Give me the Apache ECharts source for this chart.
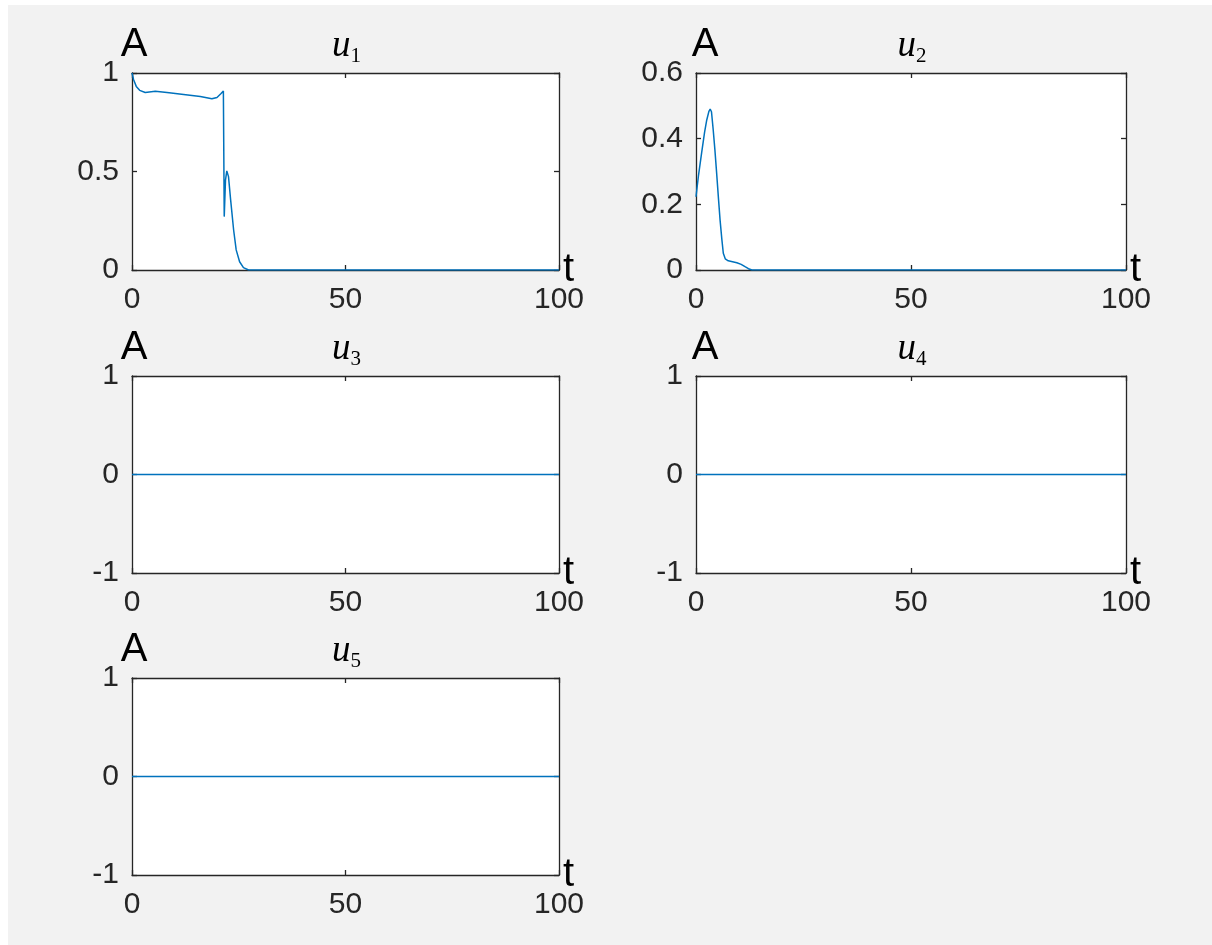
<!DOCTYPE html>
<html>
<head>
<meta charset="utf-8">
<script src="https://cdn.jsdelivr.net/npm/echarts@6/dist/echarts.min.js"></script>
<style>
  html, body { margin: 0; padding: 0; background: #ffffff; }
  #bg { position: absolute; left: 8px; top: 5px; width: 1204px; height: 940px; background: #f2f2f2; }
  #chart { position: absolute; left: 0; top: 0; width: 1212px; height: 945px; }
</style>
</head>
<body>
<div id="bg"></div>
<div id="chart"></div>
<script>
// ---- data ----
const t_u1 = [0, 0.38, 1.0, 1.8, 3.1, 5.45, 8.2, 12.1, 16.0, 18.7, 19.9, 20.8, 21.4, 21.6, 21.9, 22.2, 22.6, 23.1, 23.8, 24.4, 25.2, 26.1, 27.3, 40, 60, 80, 100];
const v_u1 = [1.0, 0.966, 0.932, 0.912, 0.901, 0.907, 0.901, 0.891, 0.881, 0.869, 0.876, 0.895, 0.908, 0.271, 0.458, 0.503, 0.474, 0.356, 0.203, 0.102, 0.042, 0.012, 0, 0, 0, 0, 0];

const t_u2 = [0, 0.6, 1.3, 2.0, 2.5, 3.0, 3.3, 3.6, 4.0, 4.4, 4.8, 5.2, 5.6, 6.0, 6.35, 6.8, 7.5, 8.5, 9.5, 10.5, 11.4, 12.2, 13.0, 40, 70, 100];
const v_u2 = [0.223, 0.29, 0.356, 0.42, 0.457, 0.483, 0.49, 0.482, 0.427, 0.365, 0.295, 0.222, 0.152, 0.095, 0.051, 0.034, 0.028, 0.025, 0.022, 0.017, 0.01, 0.004, 0, 0, 0, 0];

const t_flat = [0, 100];
const v_u3 = [0, 0];
const v_u4 = [0, 0];
const v_u5 = [0, 0];

const subscripts = ['1', '2', '3', '4', '5'];
const xTicks = { min: 0, max: 100, step: 50 };
const yMin = [0, 0, -1, -1, -1];
const yMax = [1, 0.6, 1, 1, 1];
const yStep = [0.5, 0.2, 1, 1, 1];
const seriesT = [t_u1, t_u2, t_flat, t_flat, t_flat];
const seriesV = [v_u1, v_u2, v_u3, v_u4, v_u5];

// ---- layout / style ----
const grids = [
  { left: 132, top: 73, width: 427, height: 197 },
  { left: 696, top: 73, width: 430, height: 197 },
  { left: 132, top: 376, width: 427, height: 197 },
  { left: 696, top: 376, width: 430, height: 197 },
  { left: 132, top: 678, width: 427, height: 197 }
];
const aShift = [2, 9, 2, 9, 2];
const axisColor = '#262626';
const lineColor = '#0072BD';
const tickFont = 'Liberation Sans';

const option = {
  backgroundColor: 'transparent',
  animation: false,
  grid: grids.map(g => ({ ...g, show: true, backgroundColor: '#ffffff', borderWidth: 0, containLabel: false })),
  title: grids.map((g, i) => ({
    left: g.left + g.width / 2 - 4,
    top: g.top - 53,
    textAlign: 'center',
    text: '{u|u}{s|' + subscripts[i] + '}',
    textStyle: {
      fontWeight: 'normal',
      rich: {
        u: { fontFamily: 'Liberation Serif', fontStyle: 'italic', fontWeight: 'normal', fontSize: 37, color: '#000', lineHeight: 42 },
        s: { fontFamily: 'Liberation Serif', fontWeight: 'normal', fontSize: 21, color: '#000', verticalAlign: 'bottom', lineHeight: 20 }
      }
    }
  })),
  xAxis: [],
  yAxis: [],
  series: []
};

grids.forEach((g, i) => {
  const common = {
    gridIndex: i,
    type: 'value',
    axisLine: { show: true, onZero: false, lineStyle: { color: axisColor, width: 1.3 } },
    axisTick: { show: true, inside: true, length: 5, lineStyle: { color: axisColor, width: 1.3 } },
    splitLine: { show: false }
  };
  option.xAxis.push({
    ...common,
    position: 'bottom',
    min: xTicks.min, max: xTicks.max, interval: xTicks.step,
    axisLabel: { show: true, color: axisColor, fontFamily: tickFont, fontSize: 30, margin: 15 },
    name: 't', nameLocation: 'end', nameGap: 4, nameMoveOverlap: false,
    nameTextStyle: { color: '#000', fontFamily: tickFont, fontSize: 40, verticalAlign: 'middle', padding: [10, 0, 0, 0] }
  });
  option.xAxis.push({
    ...common,
    position: 'top',
    min: xTicks.min, max: xTicks.max, interval: xTicks.step,
    axisLabel: { show: false }
  });
  option.yAxis.push({
    ...common,
    position: 'left',
    min: yMin[i], max: yMax[i], interval: yStep[i],
    axisLabel: { show: true, color: axisColor, fontFamily: tickFont, fontSize: 30, margin: 13 },
    name: 'A', nameLocation: 'end', nameGap: 8, nameMoveOverlap: false,
    nameTextStyle: { color: '#000', fontFamily: tickFont, fontSize: 40, align: 'center', padding: [0, 0, 0, 2 * aShift[i]] }
  });
  option.yAxis.push({
    ...common,
    position: 'right',
    min: yMin[i], max: yMax[i], interval: yStep[i],
    axisLabel: { show: false }
  });
  option.series.push({
    type: 'line',
    xAxisIndex: 2 * i,
    yAxisIndex: 2 * i,
    data: seriesT[i].map((t, k) => [t, seriesV[i][k]]),
    showSymbol: false,
    smooth: false,
    lineStyle: { color: lineColor, width: 1.5 },
    itemStyle: { color: lineColor },
    clip: true
  });
});

const chart = echarts.init(document.getElementById('chart'), null, { renderer: 'canvas' });
chart.setOption(option);
</script>
</body>
</html>
